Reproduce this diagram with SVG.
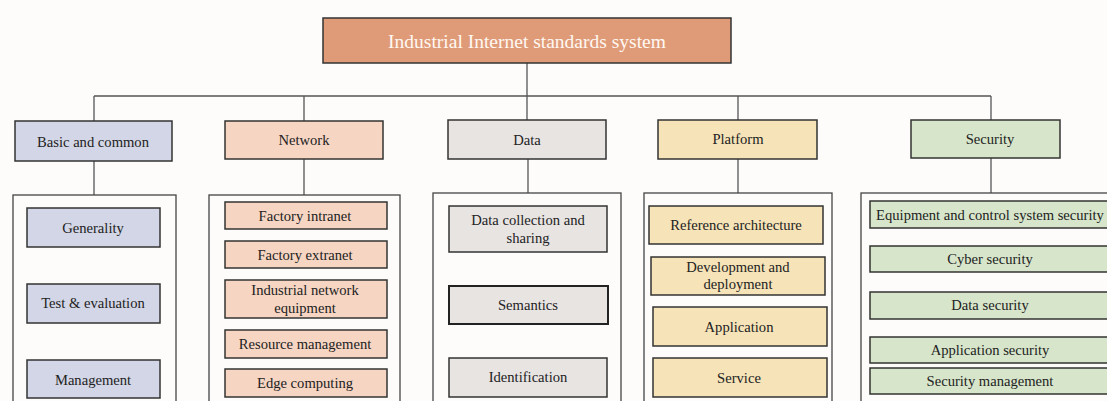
<svg xmlns="http://www.w3.org/2000/svg" width="1107" height="401" viewBox="0 0 1107 401">
  <style>
    .t { font-family: "Liberation Serif", "Times New Roman", serif; font-size: 14.6px; fill: #222; text-anchor: middle; dominant-baseline: central; }
    .title { font-family: "Liberation Serif", "Times New Roman", serif; font-size: 19.5px; fill: #fff8f2; text-anchor: middle; dominant-baseline: central; }
    .box { stroke: #333; stroke-width: 1.5; }
    .frame { fill: #fdfcfb; stroke: #444; stroke-width: 1.3; }
    .basic { fill: #d3d6e6; }
    .net { fill: #f6d5c2; }
    .data { fill: #e8e4e2; }
    .plat { fill: #f6e3b8; }
    .sec { fill: #d7e6cb; }
    .conn line { stroke: #555; stroke-width: 1.3; }
  </style>
  <rect width="1107" height="401" fill="#fdfcfb"/>

  <!-- connectors -->
  <g id="connectors" class="conn">
    <line x1="527" y1="63" x2="527" y2="96"/>
    <line x1="94" y1="96" x2="991" y2="96"/>
    <line x1="94" y1="96" x2="94" y2="121"/>
    <line x1="304" y1="96" x2="304" y2="121"/>
    <line x1="527" y1="96" x2="527" y2="120"/>
    <line x1="738" y1="96" x2="738" y2="120"/>
    <line x1="991" y1="96" x2="991" y2="120"/>
    <line x1="94" y1="161" x2="94" y2="195"/>
    <line x1="304" y1="159" x2="304" y2="195"/>
    <line x1="528" y1="159" x2="528" y2="193"/>
    <line x1="738" y1="159" x2="738" y2="193"/>
    <line x1="991" y1="158" x2="991" y2="193"/>
  </g>

  <!-- root -->
  <g id="root">
    <rect x="323" y="18" width="408" height="45" fill="#df9b78" class="box"/>
    <text class="title" x="527" y="41">Industrial Internet standards system</text>
  </g>

  <!-- Basic and common -->
  <g id="basic">
    <rect x="15" y="121" width="157" height="40" class="box basic"/>
    <text class="t" x="93" y="142">Basic and common</text>
    <rect x="13" y="195" width="163" height="220" class="frame"/>
    <g id="basic-generality">
      <rect x="27" y="208" width="133" height="39" class="box basic"/>
      <text class="t" x="93" y="228">Generality</text>
    </g>
    <g id="basic-test">
      <rect x="27" y="284" width="133" height="39" class="box basic"/>
      <text class="t" x="93" y="303">Test &amp; evaluation</text>
    </g>
    <g id="basic-management">
      <rect x="27" y="360" width="133" height="38" class="box basic"/>
      <text class="t" x="93" y="380">Management</text>
    </g>
  </g>

  <!-- Network -->
  <g id="network">
    <rect x="225" y="121" width="158" height="38" class="box net"/>
    <text class="t" x="304" y="140">Network</text>
    <rect x="209" y="195" width="191" height="220" class="frame"/>
    <g id="net-intranet">
      <rect x="225" y="202" width="162" height="27" class="box net"/>
      <text class="t" x="305" y="216">Factory intranet</text>
    </g>
    <g id="net-extranet">
      <rect x="225" y="241" width="162" height="27" class="box net"/>
      <text class="t" x="305" y="255">Factory extranet</text>
    </g>
    <g id="net-equipment">
      <rect x="225" y="280" width="162" height="38" class="box net"/>
      <text class="t" x="305" y="290">Industrial network</text>
      <text class="t" x="305" y="308">equipment</text>
    </g>
    <g id="net-resource">
      <rect x="225" y="330" width="162" height="28" class="box net"/>
      <text class="t" x="305" y="344">Resource management</text>
    </g>
    <g id="net-edge">
      <rect x="225" y="369" width="162" height="28" class="box net"/>
      <text class="t" x="305" y="383">Edge computing</text>
    </g>
  </g>

  <!-- Data -->
  <g id="data">
    <rect x="448" y="120" width="158" height="39" class="box data"/>
    <text class="t" x="527" y="140">Data</text>
    <rect x="433" y="193" width="188" height="222" class="frame"/>
    <g id="data-collection">
      <rect x="449" y="206" width="158" height="46" class="box data"/>
      <text class="t" x="528" y="220">Data collection and</text>
      <text class="t" x="528" y="238">sharing</text>
    </g>
    <g id="data-semantics">
      <rect x="449" y="286" width="159" height="38" class="box data" style="stroke:#222;stroke-width:2"/>
      <text class="t" x="528" y="305">Semantics</text>
    </g>
    <g id="data-identification">
      <rect x="449" y="358" width="158" height="39" class="box data"/>
      <text class="t" x="528" y="377">Identification</text>
    </g>
  </g>

  <!-- Platform -->
  <g id="platform">
    <rect x="658" y="120" width="159" height="39" class="box plat"/>
    <text class="t" x="738" y="139">Platform</text>
    <rect x="644" y="193" width="188" height="222" class="frame"/>
    <g id="plat-reference">
      <rect x="649" y="206" width="174" height="38" class="box plat"/>
      <text class="t" x="736" y="225">Reference architecture</text>
    </g>
    <g id="plat-development">
      <rect x="651" y="257" width="174" height="38" class="box plat"/>
      <text class="t" x="738" y="267">Development and</text>
      <text class="t" x="738" y="284">deployment</text>
    </g>
    <g id="plat-application">
      <rect x="653" y="307" width="174" height="39" class="box plat"/>
      <text class="t" x="739" y="327">Application</text>
    </g>
    <g id="plat-service">
      <rect x="653" y="358" width="174" height="39" class="box plat"/>
      <text class="t" x="739" y="378">Service</text>
    </g>
  </g>

  <!-- Security -->
  <g id="security">
    <rect x="911" y="120" width="149" height="38" class="box sec"/>
    <text class="t" x="990" y="139">Security</text>
    <rect x="861" y="193" width="260" height="222" class="frame"/>
    <g id="sec-equipment">
      <rect x="870" y="201" width="245" height="27" class="box sec"/>
      <text class="t" x="990" y="215">Equipment and control system security</text>
    </g>
    <g id="sec-cyber">
      <rect x="870" y="246" width="245" height="26" class="box sec"/>
      <text class="t" x="990" y="259">Cyber security</text>
    </g>
    <g id="sec-data">
      <rect x="870" y="292" width="245" height="27" class="box sec"/>
      <text class="t" x="990" y="305">Data security</text>
    </g>
    <g id="sec-application">
      <rect x="870" y="337" width="245" height="26" class="box sec"/>
      <text class="t" x="990" y="350">Application security</text>
    </g>
    <g id="sec-management">
      <rect x="870" y="368" width="245" height="26" class="box sec"/>
      <text class="t" x="990" y="381">Security management</text>
    </g>
  </g>
</svg>
